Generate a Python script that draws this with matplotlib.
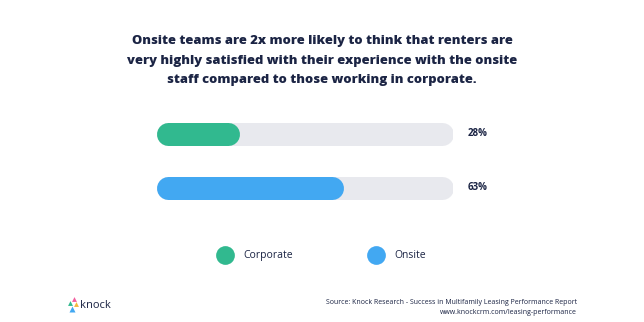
import matplotlib
matplotlib.use("Agg")
import matplotlib.pyplot as plt

title = ("Onsite teams are 2x more likely to think that renters are\n"
         "very highly satisfied with their experience with the onsite\n"
         "staff compared to those working in corporate.")
categories = ["Corporate", "Onsite"]
values = [28, 63]
labels = ["28%", "63%"]
colors = ["#31b98f", "#42a8f2"]
track_color = "#e8e9ee"
text_color = "#1b2444"
source_lines = ["Source: Knock Research - Success in Multifamily Leasing Performance Report",
                "www.knockcrm.com/leasing-performance"]

W, H = 644, 322
fig = plt.figure(figsize=(W / 100, H / 100), dpi=100)
fig.patch.set_facecolor("white")
font = "Open Sans"

# overlay in pixel coordinates for decorations
ov = fig.add_axes([0, 0, 1, 1])
ov.set_xlim(0, W)
ov.set_ylim(H, 0)
ov.axis("off")

ov.text(W / 2, 60.5, title, ha="center", va="center", fontsize=9.4, fontweight="heavy",
        color=text_color, family=font, linespacing=1.8)

# bars axes
left_px, right_px = 156, 453
top_px, bot_px = 106.5, 214.5
ax = fig.add_axes([left_px / W, (H - bot_px) / H, (right_px - left_px) / W, (bot_px - top_px) / H])
ax.set_xlim(0, 100)
ax.set_ylim(len(values) - 0.5, -0.5)
ax.axis("off")

bar_px = 23
lw = bar_px * 72 / 100
half = (bar_px / 2) / ((right_px - left_px) / 100)
for i, (v, c, lab) in enumerate(zip(values, colors, labels)):
    ax.plot([half, 100 - half], [i, i], color=track_color, lw=lw, solid_capstyle="round")
    ax.plot([half, v - half], [i, i], color=c, lw=lw, solid_capstyle="round")
    ax.text(105, i, lab, ha="left", va="center", fontsize=7, fontweight="bold",
            color=text_color, family=font)

# legend
leg_pos = [(225, 255), (376, 255)]
for (x, y), c, name in zip(leg_pos, colors, categories):
    ov.plot([x], [y], marker="o", ms=13.5, color=c, mec="none")
    ov.text(x + 18, y + 0.5, name, ha="left", va="center", fontsize=7.5, color=text_color, family=font)

# logo
ov.plot([74], [298.5], marker="^", ms=3.5, color="#f25f9f", mec="none")
ov.plot([70.5], [303], marker="^", ms=3.5, color="#31b98f", mec="none")
ov.plot([76.5], [303.5], marker="^", ms=3.5, color="#f5b83d", mec="none")
ov.plot([72], [309], marker="^", ms=4.5, color="#42a8f2", mec="none")
ov.text(80, 305.5, "knock", ha="left", va="center", fontsize=8, color=text_color, family=font)

# source
ov.text(577, 303, source_lines[0], ha="right", va="center", fontsize=5, color=text_color, family=font)
ov.text(577, 312.5, source_lines[1], ha="right", va="center", fontsize=5, color=text_color, family=font)

fig.savefig("out.png", dpi=100, facecolor="white")
